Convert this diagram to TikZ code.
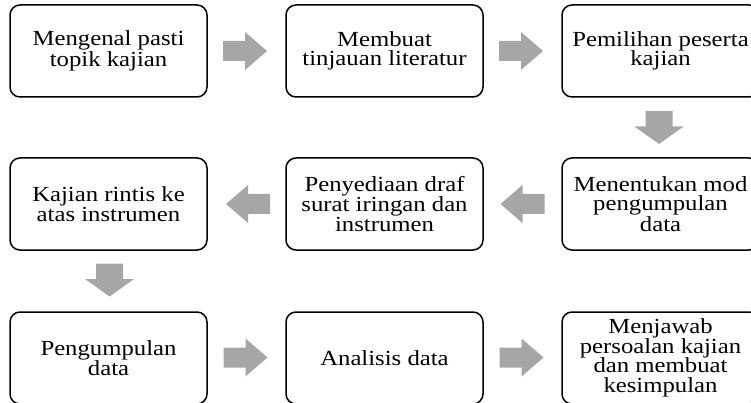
\documentclass[tikz,border=0pt]{standalone}
\usepackage{fontspec}
\setmainfont{Liberation Serif}[FakeStretch=1.15]
\usetikzlibrary{calc}
\definecolor{arrowgray}{RGB}{166,166,166}
\tikzset{
  stepbox/.style={draw=black, line width=1.5pt, rounded corners=10pt,
    minimum width=197pt, minimum height=92pt, inner sep=0pt, align=center,
    font=\fontsize{21.5}{19.5}\selectfont},
  pics/rarrow/.style={code={
    \fill[arrowgray] (-22,-10) -- (0,-10) -- (0,-19) -- (22,0) -- (0,19) -- (0,10) -- (-22,10) -- cycle;}},
  pics/darrow/.style={code={
    \fill[arrowgray] (-13.5,-16.5) -- (13.5,-16.5) -- (13.5,-1) -- (24.5,-1) -- (0,16.5) -- (-24.5,-1) -- (-13.5,-1) -- cycle;}}
}
\begin{document}
\begin{tikzpicture}[x=1pt, y=-1pt]
  \clip (0,0) rectangle (751,403);

  % first row
  \node[stepbox] (b1) at (108.5,51) {Mengenal pasti\\topik kajian};
  \node[stepbox] (b2) at (384.5,51) {Membuat\\tinjauan literatur};
  \node[stepbox] (b3) at (660.5,51) {Pemilihan peserta\\kajian};
  % second row
  \node[stepbox] (b4) at (108.5,204) {Kajian rintis ke\\atas instrumen};
  \node[stepbox] (b5) at (384.5,204) {Penyediaan draf\\surat iringan dan\\instrumen};
  \node[stepbox] (b6) at (660.5,204) {Menentukan mod\\pengumpulan\\data};
  % third row
  \node[stepbox] (b7) at (108.5,358) {Pengumpulan\\data};
  \node[stepbox] (b8) at (384.5,358) {Analisis data};
  \node[stepbox] (b9) at (660.5,358) {Menjawab\\persoalan kajian\\dan membuat\\kesimpulan};

  % block arrows between steps
  \pic at ($(b1.east)!0.5!(b2.west)+(-1.5,0)$) {rarrow};
  \pic at ($(b2.east)!0.5!(b3.west)+(-1.5,0)$) {rarrow};
  \pic at ($(b3.south)!0.5!(b6.north)+(-1.5,0)$) {darrow};
  \pic[rotate=180] at ($(b6.west)!0.5!(b5.east)$) {rarrow};
  \pic[rotate=180] at ($(b5.west)!0.5!(b4.east)+(1.5,0)$) {rarrow};
  \pic at ($(b4.south)!0.5!(b7.north)+(1,-1)$) {darrow};
  \pic at ($(b7.east)!0.5!(b8.west)+(-1,-0.5)$) {rarrow};
  \pic at ($(b8.east)!0.5!(b9.west)+(-1,-0.5)$) {rarrow};
\end{tikzpicture}
\end{document}
